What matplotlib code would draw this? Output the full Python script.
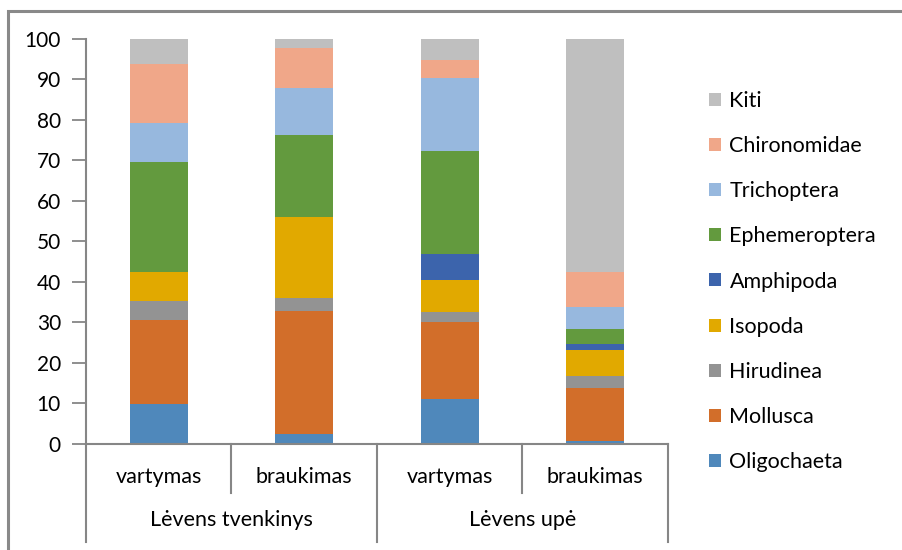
import matplotlib
matplotlib.use('Agg')
import matplotlib.pyplot as plt
from matplotlib.patches import Rectangle
import matplotlib.transforms as mtransforms
import numpy as np

plt.rcParams['font.family'] = ['Lato', 'DejaVu Sans']

# data (percent of total)
sites = ['Lėvens tvenkinys', 'Lėvens upė']
methods = ['vartymas', 'braukimas', 'vartymas', 'braukimas']
taxa = ['Oligochaeta', 'Mollusca', 'Hirudinea', 'Isopoda', 'Amphipoda',
        'Ephemeroptera', 'Trichoptera', 'Chironomidae', 'Kiti']
oligochaeta = [9.9, 2.5, 11.1, 0.7]
mollusca = [20.7, 30.3, 18.9, 13.2]
hirudinea = [4.6, 3.2, 2.5, 2.9]
isopoda = [7.2, 20.0, 8.0, 6.4]
amphipoda = [0.0, 0.0, 6.5, 1.5]
ephemeroptera = [27.1, 20.2, 25.2, 3.6]
trichoptera = [9.6, 11.6, 18.0, 5.4]
chironomidae = [14.6, 10.0, 4.6, 8.7]
kiti = [6.3, 2.2, 5.2, 57.6]

series = [oligochaeta, mollusca, hirudinea, isopoda, amphipoda,
          ephemeroptera, trichoptera, chironomidae, kiti]
colors = ['#4F88BB', '#D26E2A', '#939393', '#E1A900', '#3C64AC',
          '#639A3E', '#97B8DE', '#F0A789', '#BFBFBF']

fig = plt.figure(figsize=(9.03, 5.5), dpi=100)
ax = fig.add_axes([86/903, 1 - 444/550, (668 - 86)/903, (444 - 38.7)/550])

x = np.arange(len(methods))
bottom = np.zeros(len(methods))
bars = []
for vals, c, name in zip(series, colors, taxa):
    b = ax.bar(x, vals, width=0.4, bottom=bottom, color=c, label=name)
    bars.append(b)
    bottom += np.array(vals)

ax.set_xlim(-0.5, len(methods) - 0.5)
ax.set_ylim(0, 100)
ax.set_yticks(range(0, 101, 10))
ax.tick_params(axis='y', length=10, width=1.3, color='#868686',
               labelsize=15, pad=8)
ax.set_xticks([])
for s in ['top', 'right']:
    ax.spines[s].set_visible(False)
for s in ['left', 'bottom']:
    ax.spines[s].set_color('#868686')
    ax.spines[s].set_linewidth(1.5)

# category labels and dividers
trans = mtransforms.blended_transform_factory(ax.transData, ax.transAxes)
for i, m in enumerate(methods):
    ax.text(i, -0.081, m, transform=trans, ha='center', va='center', fontsize=15.5)
for j, s in enumerate(sites):
    ax.text(2 * j + 0.5, -0.1875, s, transform=trans, ha='center', va='center', fontsize=15.5)
for xd in [0.5, 2.5]:
    ax.plot([xd, xd], [0, -0.121], transform=trans, color='#868686', lw=1.5, clip_on=False)
for xd in [-0.5, 1.5, 3.5]:
    ax.plot([xd, xd], [0, -0.242], transform=trans, color='#868686', lw=1.5, clip_on=False)

leg = fig.legend(handles=bars[::-1], labels=taxa[::-1], loc='center left',
                 bbox_to_anchor=(709/903, 1 - 281.5/550), frameon=False,
                 fontsize=15.5, handlelength=0.55, handleheight=0.55,
                 handletextpad=0.4, labelspacing=1.17, borderpad=0,
                 borderaxespad=0)

# outer chart frame
fig.patches.append(Rectangle((8/903, -0.1), 1.2, 1 - 11/550 + 0.1,
                             transform=fig.transFigure, fill=False,
                             edgecolor='#898989', lw=2.2))

fig.savefig('out.png', dpi=100)
